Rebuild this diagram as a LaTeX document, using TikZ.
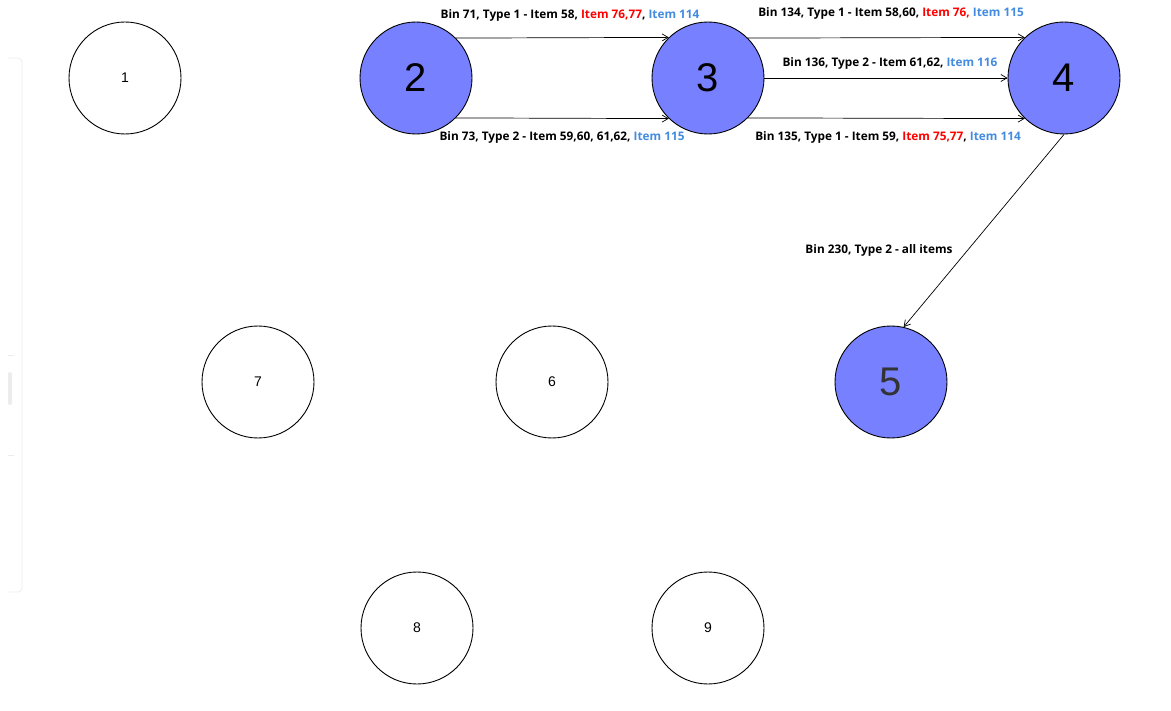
\documentclass[tikz,border=0pt]{standalone}
\usepackage{fontspec}
\setmainfont{Liberation Sans}
\newfontfamily\lblfont{Open Sans}
\usetikzlibrary{arrows.meta}
\definecolor{nodeblue}{RGB}{119,128,255}
\definecolor{itemred}{RGB}{255,0,0}
\definecolor{itemblue}{RGB}{66,139,224}
\definecolor{panelgray}{RGB}{236,236,238}
\tikzset{
  circ/.style={circle,draw=black,line width=0.9pt,minimum size=112pt,inner sep=0pt,fill=white,font=\fontsize{14}{16}\selectfont},
  bigcirc/.style={circ,fill=nodeblue,font=\fontsize{40}{44}\selectfont},
  conn/.style={line width=0.7pt,-{Straight Barb[length=6pt,width=7pt]}},
  lbl/.style={font=\lblfont\bfseries\fontsize{11.8}{13}\selectfont,inner sep=0pt,anchor=base},
}
\begin{document}
\begin{tikzpicture}[x=1pt,y=-1pt]
\useasboundingbox (0,0) rectangle (1171,711);
% faint side panel
\draw[panelgray,line width=0.8pt,rounded corners=4pt] (8,58) -- (22,58) -- (22,592) -- (8,592);
\draw[panelgray,line width=0.8pt] (8,355) -- (14,355);
\draw[panelgray,line width=0.8pt] (8,455) -- (14,455);
\fill[panelgray,rounded corners=2pt] (8,372) rectangle (12,405);

\node[circ] (n1) at (125,78) {1};
\node[bigcirc] (n2) at (416,78) {2};
\node[bigcirc] (n3) at (708,78) {3};
\node[bigcirc] (n4) at (1064,78) {4};
\node[bigcirc,text=black!80] (n5) at (891,382) {5};
\node[circ] (n7) at (258,382) {7};
\node[circ] (n6) at (552,382) {6};
\node[circ] (n8) at (417,628) {8};
\node[circ] (n9) at (708,628) {9};

\draw[conn] (n2.45.6) -- (n3.134.4);
\draw[conn] (n2.-45.6) -- (n3.-134.4);
\draw[conn] (n3.45.6) -- (n4.134.4);
\draw[conn] (n3.east) -- (n4.west);
\draw[conn] (n3.-45.6) -- (n4.-134.4);
\draw[conn] (n4.south) -- (n5.77.5);

\node[lbl] (l1) at (570,19) {Bin 71, Type 1 - Item 58, \textcolor{itemred}{Item 76,77}, \textcolor{itemblue}{Item 114}};
\node[lbl] (l2) at (562,141) {Bin 73, Type 2 - Item 59,60, 61,62, \textcolor{itemblue}{Item 115}};
\node[lbl] (l3) at (891,17) {Bin 134, Type 1 - Item 58,60, \textcolor{itemred}{Item 76,} \textcolor{itemblue}{Item 115}};
\node[lbl] (l4) at (890,67) {Bin 136, Type 2 - Item 61,62, \textcolor{itemblue}{Item 116}};
\node[lbl] (l5) at (888,141) {Bin 135, Type 1 - Item 59, \textcolor{itemred}{Item 75,77}, \textcolor{itemblue}{Item 114}};
\node[lbl] (l6) at (879,254) {Bin 230, Type 2 - all items};
\end{tikzpicture}
\end{document}
